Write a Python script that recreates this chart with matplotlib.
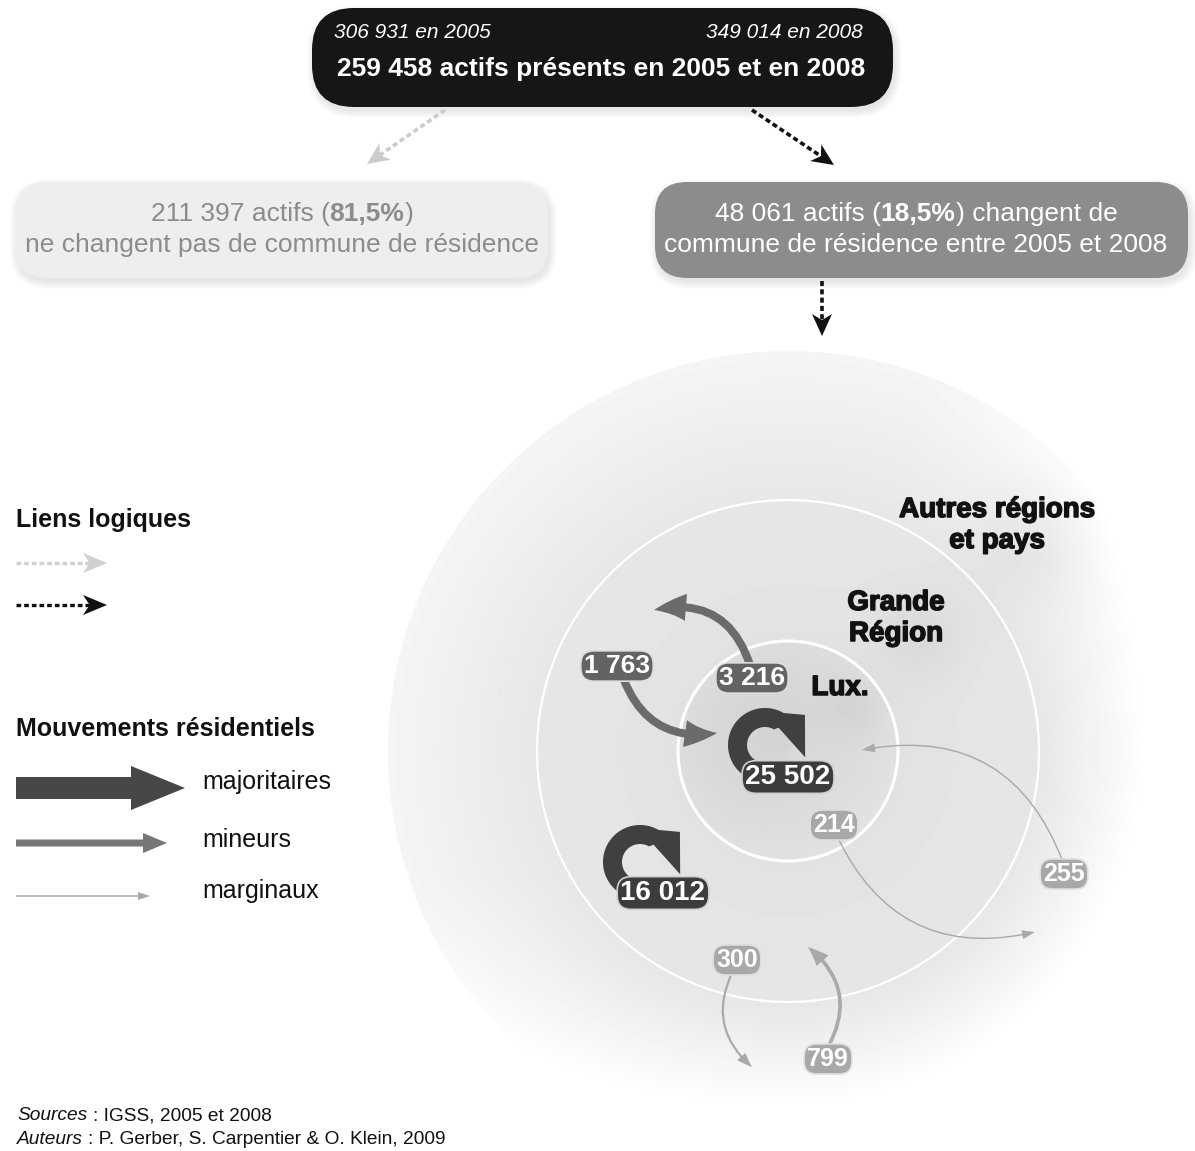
import numpy as np
import matplotlib
matplotlib.use("Agg")
import matplotlib.pyplot as plt
import matplotlib.patheffects as pe
from matplotlib.patches import FancyBboxPatch, Circle, Polygon, FancyArrowPatch, ArrowStyle

plt.rcParams['font.family'] = ['Liberation Sans', 'DejaVu Sans']

# ---- data ----
years = [2005, 2008]
actifs_totaux = [306931, 349014]
actifs_presents = 259458
actifs_stables = 211397
actifs_mobiles = 48061

zones = ['Lux.', 'Grande\nRégion', 'Autres régions\net pays']

flow_values = [25502, 16012, 3216, 1763, 214, 255, 300, 799]
flow_class = ['maj', 'maj', 'min', 'min', 'marg', 'marg', 'marg', 'marg']

legend_liens = 'Liens logiques'
legend_mouv = 'Mouvements résidentiels'
legend_classes = ['majoritaires', 'mineurs', 'marginaux']

source_txt = ['Sources', ' : IGSS, 2005 et 2008']
auteurs_txt = ['Auteurs', ' : P. Gerber, S. Carpentier & O. Klein, 2009']

# ---- figure in pixel coordinates ----
W, H = 1195, 1151
PT = 100 / 72.0
fig = plt.figure(figsize=(W / 100, H / 100), dpi=100)
ax = fig.add_axes([0, 0, 1, 1])
ax.set_xlim(0, W)
ax.set_ylim(H, 0)
ax.axis('off')
renderer = fig.canvas.get_renderer()


def fmt(n):
    return f"{n:,}".replace(",", " ")


def pct(a, b):
    return f"{100 * a / b:.1f}".replace(".", ",") + "%"


def text_width(s, **kw):
    t1 = ax.text(0, 0, "|" + s + "|", **kw)
    t2 = ax.text(0, 0, "||", **kw)
    w = t1.get_window_extent(renderer).width - t2.get_window_extent(renderer).width
    t1.remove()
    t2.remove()
    return w


def rich_line(x, y, parts, size, color, ha='center'):
    # parts: (text, weight, style)
    widths = [text_width(s, fontsize=size, fontweight=w, fontstyle=st) for s, w, st in parts]
    x0 = x - sum(widths) / 2 if ha == 'center' else x
    for (s, w, st), wd in zip(parts, widths):
        lead = len(s) - len(s.lstrip(' '))
        off = text_width(' ' * lead, fontsize=size, fontweight=w, fontstyle=st) if lead else 0
        ax.text(x0 + off, y, s.lstrip(' '), fontsize=size, fontweight=w, fontstyle=st,
                color=color, ha='left', va='center', zorder=5)
        x0 += wd


def box(x0, y0, x1, y1, fc, rnd, shadow=True):
    if shadow:
        for i in range(8):
            ax.add_patch(FancyBboxPatch((x0 + 2 - i, y0 + 4 - i), x1 - x0 + 2 * i, y1 - y0 + 2 * i,
                                        boxstyle=f"round,pad=0,rounding_size={rnd + i}",
                                        fc='black', ec='none', alpha=0.011, zorder=1))
    ax.add_patch(FancyBboxPatch((x0, y0), x1 - x0, y1 - y0,
                                boxstyle=f"round,pad=0,rounding_size={rnd}",
                                fc=fc, ec='none', zorder=2))


def dashed_arrow(p0, p1, color, lw=2.6, hl=22, hw=20, dash=(1.4, 0.9)):
    p0, p1 = np.array(p0, float), np.array(p1, float)
    d = (p1 - p0) / np.linalg.norm(p1 - p0)
    n = np.array([-d[1], d[0]])
    base = p1 - hl * d
    end = p1 - 0.6 * hl * d
    ax.plot([p0[0], end[0]], [p0[1], end[1]], color=color, lw=lw, ls=(0, dash),
            solid_capstyle='butt', dash_capstyle='butt', zorder=3)
    notch = p1 - 0.72 * hl * d
    ax.add_patch(Polygon([p1, base + hw / 2 * n, notch, base - hw / 2 * n], closed=True,
                         fc=color, ec='none', zorder=3))


def simple_arrow(p0, p1, tail, hw, hl, color, rad=0.0, z=4):
    style = ArrowStyle.Simple(head_length=hl / PT, head_width=hw / PT, tail_width=tail / PT)
    ax.add_patch(FancyArrowPatch(p0, p1, arrowstyle=style, connectionstyle=f"arc3,rad={rad}",
                                 mutation_scale=1, shrinkA=0, shrinkB=0,
                                 fc=color, ec='none', zorder=z))


def polar(c, rr, deg):
    a = np.radians(deg)
    return np.array([c[0] + rr * np.cos(a), c[1] - rr * np.sin(a)])


def loop_arrow(c, color, r_in=18, r_out=37, t0=250, t1=60):
    ts = np.linspace(t0, t1, 80)
    outer = np.array([polar(c, r_out, t) for t in ts])
    inner = np.array([polar(c, r_in, t) for t in ts])
    head = np.array([polar(c, 50, 37), polar(c, 42, -17), polar(c, 22, 52)])
    verts = np.vstack([outer, head, inner[::-1]])
    ax.add_patch(Polygon(verts, closed=True, fc=color, ec='none', zorder=4))


def label(x, y, s, fc, size=19, ec='#d8d8d8'):
    ax.text(x, y, s, ha='center', va='center', fontsize=size, fontweight='bold', color='white',
            zorder=6, bbox=dict(boxstyle="round,pad=0.12,rounding_size=0.5", fc=fc, ec=ec, lw=1.2))


# ---- concentric zones background ----
cx, cy = 788, 751
R_out, R_mid, R_in = 400, 251, 110
yy, xx = np.mgrid[0:H, 0:W] + 0.5
dx, dy = xx - cx, yy - cy
r = np.hypot(dx, dy)
cosd = (dx + dy) / (np.sqrt(2) * np.maximum(r, 1))
v = np.ones_like(r)
t = np.clip((r - R_mid) / (R_out - R_mid), 0, 1)
ring = (r >= R_mid) & (r <= R_out)
v[ring] = (0.905 + 0.055 * t + 0.08 * np.clip(cosd + 0.4, 0, 1) * t ** 1.1)[ring]
mid = (r >= R_in) & (r < R_mid)
v[mid] = (0.9 - 0.015 * (1 - (r - R_in) / (R_mid - R_in)) ** 2)[mid]
inn = r < R_in
v[inn] = (0.84 + 0.035 * (r / R_in) ** 2 + 0.012 * cosd)[inn]
for bx, by, s, a in [(1030, 545, 40, 0.045), (920, 635, 32, 0.04), (855, 705, 22, 0.03)]:
    v -= a * np.exp(-((xx - bx) ** 2 + (yy - by) ** 2) / (2 * s ** 2)) * (r < R_out)
v = np.clip(v, 0, 1)
ax.imshow(v, cmap='gray', vmin=0, vmax=1, extent=(0, W, H, 0), interpolation='bilinear', zorder=0)
ax.add_patch(Circle((cx, cy), R_mid, fill=False, ec='white', lw=1.6, zorder=1))
ax.add_patch(Circle((cx, cy), R_in, fill=False, ec='white', lw=2.2, zorder=1))

# zone names
zone_pos = [(840, 688), (896, 603), (997, 510)]
heavy = [pe.withStroke(linewidth=1.1, foreground='#111111')]
for name, (zx, zy) in zip(zones, zone_pos):
    for k, line in enumerate(name.split('\n')):
        ax.text(zx, zy + 31 * k, line, ha='center', va='center', fontsize=20,
                fontweight='bold', color='#111111', zorder=5, path_effects=heavy)

# ---- top boxes ----
box(312, 8, 893, 107, '#161616', 42)
ax.text(334, 32, f"{fmt(actifs_totaux[0])} en {years[0]}", fontsize=15, fontstyle='italic',
        color='white', ha='left', va='center', zorder=5)
ax.text(863, 32, f"{fmt(actifs_totaux[1])} en {years[1]}", fontsize=15, fontstyle='italic',
        color='white', ha='right', va='center', zorder=5)
ax.text(601, 69, f"{fmt(actifs_presents)} actifs présents en {years[0]} et en {years[1]}",
        fontsize=19, fontweight='bold', color='white', ha='center', va='center', zorder=5)

box(15, 182, 548, 278, '#eeeeee', 32)
rich_line(282, 214, [(f"{fmt(actifs_stables)} actifs (", 'normal', 'normal'),
                     (pct(actifs_stables, actifs_presents), 'bold', 'normal'),
                     (")", 'normal', 'normal')], 19, '#8c8c8c')
rich_line(282, 245, [("ne changent pas de commune de résidence", 'normal', 'normal')], 19, '#8c8c8c')

box(655, 182, 1188, 278, '#8c8c8c', 32)
rich_line(916, 214, [(f"{fmt(actifs_mobiles)} actifs (", 'normal', 'normal'),
                     (pct(actifs_mobiles, actifs_presents), 'bold', 'normal'),
                     (") changent de", 'normal', 'normal')], 19, 'white')
rich_line(916, 245, [(f"commune de résidence entre {years[0]} et {years[1]}", 'normal', 'normal')],
          19, 'white')

dashed_arrow((445, 110), (367, 164), '#cccccc')
dashed_arrow((752, 110), (834, 165), '#111111')
dashed_arrow((822, 281), (822, 336), '#111111')

# ---- flows ----
colors = {'maj': '#404040', 'min': '#6b6b6b', 'marg': '#a9a9a9'}
# loops (majoritaires)
loop_centres = [(765, 745), (640, 862)]
loop_labels = [(788, 777), (663, 893)]
for i in range(2):
    loop_arrow(loop_centres[i], colors['maj'])
    label(*loop_labels[i], fmt(flow_values[i]), '#3c3c3c', size=20, ec='#cfcfcf')

# curved arrows: (start, end, rad, tail, head width, head length)
curves = [((750, 665), (654, 610), 0.45, 8, 27, 32),
          ((624, 680), (717, 733), 0.40, 8, 27, 32),
          ((838, 838), (1035, 932), 0.40, 1.4, 9, 13),
          ((1063, 862), (862, 750), 0.42, 1.4, 9, 13),
          ((732, 973), (752, 1067), 0.38, 2.2, 11, 15),
          ((828, 1047), (808, 947), 0.42, 3.6, 16, 20)]
curve_labels = [(752, 678), (617, 666), (834, 825), (1064, 874), (737, 960), (828, 1059)]
for j, (p0, p1, rad, tw, hw, hl) in enumerate(curves):
    k = j + 2
    simple_arrow(p0, p1, tw, hw, hl, colors[flow_class[k]], rad=rad)
    fc = '#636363' if flow_class[k] == 'min' else '#a8a8a8'
    label(*curve_labels[j], fmt(flow_values[k]), fc, size=19 if flow_class[k] == 'min' else 18,
          ec='#dedede')

# ---- legend ----
ax.text(16, 520, legend_liens, fontsize=18, fontweight='bold', color='#111111', ha='left', va='center')
dashed_arrow((16, 563), (107, 563), '#d0d0d0', lw=2.4, hl=24, hw=20)
dashed_arrow((16, 605), (107, 605), '#111111', lw=2.4, hl=24, hw=20)

ax.text(16, 729, legend_mouv, fontsize=18, fontweight='bold', color='#111111', ha='left', va='center')
simple_arrow((16, 788), (185, 788), 22, 44, 54, '#474747')
simple_arrow((16, 843), (167, 843), 7, 20, 24, '#777777')
simple_arrow((16, 896), (150, 896), 1.5, 8, 12, '#aaaaaa')
for txt, yv in zip(legend_classes, [782, 840, 891]):
    ax.text(202, yv, txt, fontsize=18, color='#111111', ha='left', va='center')

# ---- footer ----
rich_line(17, 1116, [(source_txt[0], 'normal', 'italic'), (source_txt[1], 'normal', 'normal')],
          13.8, '#111111', ha='left')
rich_line(17, 1139, [(auteurs_txt[0], 'normal', 'italic'), (auteurs_txt[1], 'normal', 'normal')],
          13.8, '#111111', ha='left')

fig.savefig('out.png', dpi=100)
